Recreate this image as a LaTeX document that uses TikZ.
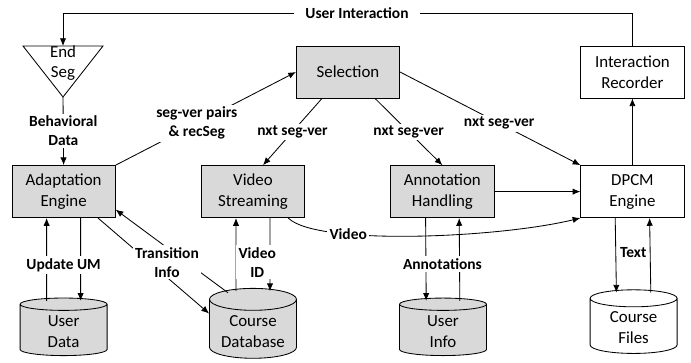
\documentclass[tikz,border=0pt]{standalone}
\usepackage{fontspec}
\setmainfont{Carlito}
\usepackage{tikz}
\usetikzlibrary{arrows,arrows.meta,shapes,decorations}
\usetikzlibrary{shapes.geometric}

\begin{document}
\begin{tikzpicture}[>={Latex[length=5.5pt,width=4.5pt]}]

\definecolor{gbox}{HTML}{D9D9D9} % light grey
\definecolor{wbox}{HTML}{FFFFFF} % white

\tikzstyle{module}=[rectangle,draw,line width=0.6pt,
	minimum width=2.58cm,minimum height=1.3cm,align=center,
	font=\fontsize{12}{15}\selectfont]

\tikzstyle{gmodule}=[module,fill=gbox]
\tikzstyle{wmodule}=[module,fill=wbox]

\tikzstyle{store}=[cylinder,shape border rotate=90,aspect=0.3,
	draw,line width=0.6pt,align=center,
	minimum width=2.175cm,minimum height=1.425cm,
	font=\fontsize{12}{15}\selectfont]

\tikzstyle{gstore}=[store,fill=gbox]
\tikzstyle{wstore}=[store,fill=wbox]

\tikzstyle{wire}=[line width=0.6pt]
\tikzstyle{flow}=[->,line width=0.6pt]
\tikzstyle{lbl}=[fill=white,align=center,inner sep=1.5pt,
	font=\bfseries\fontsize{11}{13.5}\selectfont]

  \useasboundingbox (0,0) rectangle (17.275,9.05);

  %% end of segment trigger
  \node  (es)    at (1.575,7.475) [align=center,font=\fontsize{12}{14}\selectfont]
         {End\\Seg};
  \coordinate (estop) at (1.575,7.9);
  \coordinate (esap)  at (1.575,6.625);
  \draw [wire] (0.575,7.9) -- (2.575,7.9) -- (esap) -- cycle;

  \node  (sel)   at (8.70,7.25)   [gmodule]  {Selection};
  \node  (ir)    at (15.81,7.25)  [wmodule]  {Interaction\\Recorder};

  \node  (ae)    at (1.59,4.26)   [gmodule]  {Adaptation\\Engine};
  \node  (vs)    at (6.325,4.26)  [gmodule]  {Video\\Streaming};
  \node  (ah)    at (11.06,4.26)  [gmodule]  {Annotation\\Handling};
  \node  (dpcm)  at (15.81,4.26)  [wmodule]  {DPCM\\Engine};

  \node  (ud)    at (1.59,0.7625)  [gstore]  {User\\Data};
  \node  (cdb)   at (6.325,0.7625) [gstore]  {Course\\Database};
  \node  (ui)    at (11.075,0.7625)[gstore]  {User\\Info};
  \node  (cf)    at (15.84,0.85)   [wstore]  {Course\\Files};

  \node  (uilbl) at (8.925,8.725) [lbl,inner xsep=8pt] {User Interaction};

  \draw [wire] (ir.north) |- (uilbl.east);
  \draw [flow] (uilbl.west) -| (estop);

  \path (esap) edge [flow] node[lbl] {Behavioral\\Data} (ae.north)

        (ae.north east) edge [flow] node[lbl,pos=0.45] {seg-ver pairs\\\& recSeg} (sel.west)

        ([xshift=-0.65cm]sel.south) edge [flow] node[lbl] {nxt seg-ver} ([xshift=0.25cm]vs.north)
        ([xshift=0.675cm]sel.south) edge [flow] node[lbl] {nxt seg-ver} (ah.north)
        (sel.east) edge [flow] node[lbl,pos=0.55] {nxt seg-ver} (dpcm.north west)

        (ah) edge [flow] (dpcm)
        (dpcm) edge [flow] (ir)

        ([xshift=-0.425cm,yshift=-0.08cm]ud.north) edge [flow] ([xshift=-0.425cm]ae.south)
        ([xshift=0.425cm]ae.south) edge [flow] ([xshift=0.425cm,yshift=-0.08cm]ud.north)

        ([xshift=-0.625cm,yshift=-0.12cm]cdb.north) edge [flow] ([yshift=-0.45cm]ae.east)
        ([xshift=0.86cm]ae.south) edge [flow] ([yshift=0.45cm]cdb.west)

        ([xshift=-0.425cm,yshift=-0.08cm]cdb.north) edge [flow] ([xshift=-0.425cm]vs.south)
        ([xshift=0.425cm]vs.south) edge [flow] ([xshift=0.425cm,yshift=-0.08cm]cdb.north)

        ([xshift=-0.42cm]ah.south) edge [flow] ([xshift=-0.42cm,yshift=-0.08cm]ui.north)
        ([xshift=0.42cm,yshift=-0.08cm]ui.north) edge [flow] ([xshift=0.42cm]ah.south)

        ([xshift=-0.43cm]dpcm.south) edge [flow] ([xshift=-0.43cm,yshift=-0.08cm]cf.north)
        ([xshift=0.43cm,yshift=-0.08cm]cf.north) edge [flow] ([xshift=0.43cm]dpcm.south);

  \draw [flow] ([xshift=-0.42cm]vs.south east)
        .. controls +(0.7,-0.7) and +(-2.05,-0.5) ..
        node[lbl,pos=0.3] {Video} (dpcm.south west);

  %% labels shared by two lines
  \node (umlbl)  at (1.59,2.425)  [lbl] {Update UM};
  \node (tilbl)  at (4.175,2.49)  [lbl] {Transition\\Info};
  \node (vidlbl) at (6.43,2.49)   [lbl] {Video\\ID};
  \node (anlbl)  at (11.06,2.45)  [lbl] {Annotations};
  \node (txtlbl) at (15.83,2.725) [lbl] {Text};

\end{tikzpicture}
\end{document}
